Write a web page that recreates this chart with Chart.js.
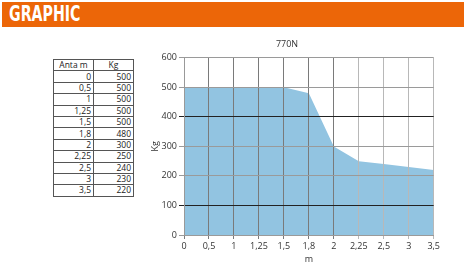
<!DOCTYPE html>
<html>
<head>
<meta charset="utf-8">
<script src="https://cdn.jsdelivr.net/npm/chart.js@4/dist/chart.umd.min.js"></script>
<style>
  html, body { margin: 0; padding: 0; background: #fff; }
  body { width: 464px; height: 270px; position: relative; overflow: hidden; font-family: "Open Sans", "Liberation Sans", sans-serif; }
  #hdr { position: absolute; left: 2px; top: 2px; width: 462px; height: 25px; background: #ec6608; }
  #hdr span { position: absolute; left: 7px; top: 0px; color: #fff; font: bold 21px/25px "Liberation Sans Narrow", "DejaVu Sans Condensed", sans-serif; transform-origin: 0 50%; transform: scaleX(0.75); display: inline-block; }
  #tbl { position: absolute; left: 53px; top: 59px; border-collapse: collapse; border: 1px solid #444; }
  #tbl td, #tbl th { border: 1px solid #555; height: 10.4px; padding: 0 2px; font-size: 8.5px; line-height: 10px; color: #222; font-weight: normal; }
  #tbl th { text-align: center; }
  #tbl td { text-align: right; }
  #tbl .c1 { width: 35px; }
  #tbl .c2 { width: 35px; }
  #wrap { position: absolute; left: 140px; top: 36px; width: 302px; height: 229px; }
</style>
</head>
<body>
<div id="hdr"><span>GRAPHIC</span></div>
<table id="tbl"><thead><tr><th class="c1">Anta m</th><th class="c2">Kg</th></tr></thead><tbody id="tb"></tbody></table>
<div id="wrap"><canvas id="cv"></canvas></div>
<script>
const heights = ["0", "0,5", "1", "1,25", "1,5", "1,8", "2", "2,25", "2,5", "3", "3,5"];
const loads = [500, 500, 500, 500, 500, 480, 300, 250, 240, 230, 220];
const yTicks = [0, 100, 200, 300, 400, 500, 600];
const title = "770N";

const tb = document.getElementById("tb");
heights.forEach((h, i) => {
  const tr = document.createElement("tr");
  tr.innerHTML = `<td>${h}</td><td>${loads[i]}</td>`;
  tb.appendChild(tr);
});

const ink = "#333";
new Chart(document.getElementById("cv"), {
  type: "line",
  data: {
    labels: heights,
    datasets: [{ data: loads, fill: "origin", backgroundColor: "#92c4e1", borderWidth: 0, pointRadius: 0, tension: 0 }]
  },
  options: {
    responsive: true, maintainAspectRatio: false, animation: false,
    layout: { padding: { right: 8, left: 0, top: 0, bottom: 0 } },
    plugins: {
      legend: { display: false }, tooltip: { enabled: false },
      title: { display: true, text: title, color: ink, font: { size: 9, family: "Open Sans", weight: "normal" }, padding: { top: 3, bottom: 8 } }
    },
    scales: {
      x: {
        offset: false,
        grid: { z: 1, color: (c) => c.index <= 6 ? "#7a7a7a" : "#b8b8b8", tickLength: 4, lineWidth: 1 },
        border: { color: "#999", z: 1 },
        ticks: { color: ink, font: { size: 9, family: "Open Sans" }, padding: 2, maxRotation: 0, autoSkip: false },
        title: { display: true, text: "m", color: ink, font: { size: 9, family: "Open Sans" }, padding: { top: 2, bottom: 0 } },
        afterFit: (s) => { s.height = 30; }
      },
      y: {
        min: 0, max: 600,
        afterBuildTicks: (s) => { s.ticks = yTicks.map(v => ({ value: v })); },
        grid: { z: 1, color: (c) => (c.tick && (c.tick.value === 100 || c.tick.value === 400)) ? "#222" : "#9a9a9a", tickLength: 5 },
        border: { color: "#999", z: 1 },
        ticks: { color: ink, font: { size: 9, family: "Open Sans" }, padding: 2 },
        title: { display: true, text: "Kg", color: ink, font: { size: 9, family: "Open Sans" }, padding: { top: 10, bottom: 0 } },
        afterFit: (s) => { s.width = 44; }
      }
    }
  }
});
</script>
</body>
</html>
